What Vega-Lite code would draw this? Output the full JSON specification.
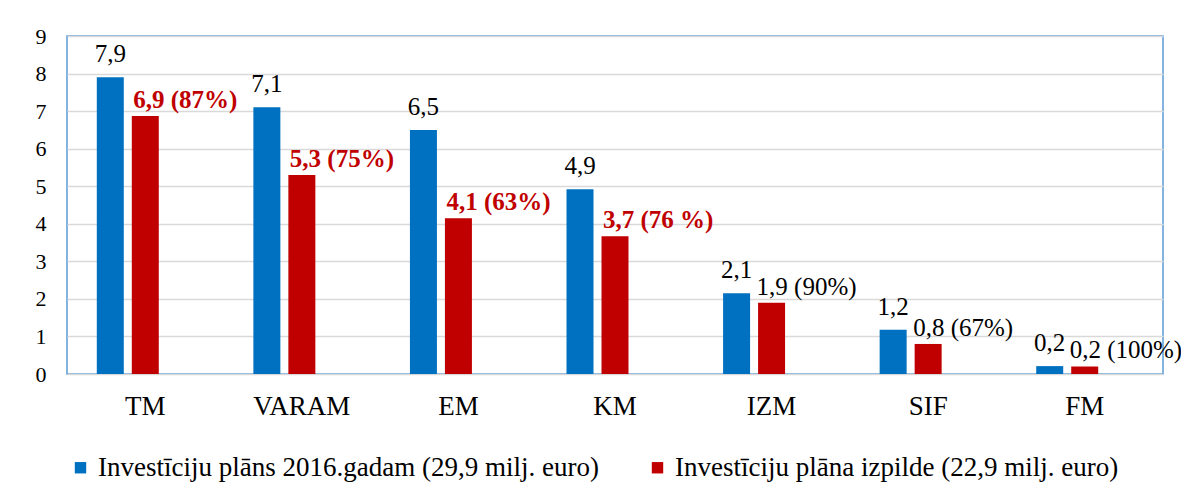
{
  "$schema": "https://vega.github.io/schema/vega-lite/v6.json",
  "width": 1096,
  "height": 338,
  "autosize": {"type": "none"},
  "padding": {"left": 67, "top": 36, "right": 18, "bottom": 124},
  "background": "white",
  "config": {
    "view": {"stroke": "#5b9bd5", "strokeWidth": 1.5},
    "font": "Liberation Serif"
  },
  "data": {
    "values": [
      {"cat": "TM", "series": "Investīciju plāns 2016.gadam (29,9 milj. euro)", "value": 7.9, "label": "7,9", "kind": "plan"},
      {"cat": "TM", "series": "Investīciju plāna izpilde (22,9 milj. euro)", "value": 6.87, "label": "6,9 (87%)", "kind": "hl"},
      {"cat": "VARAM", "series": "Investīciju plāns 2016.gadam (29,9 milj. euro)", "value": 7.1, "label": "7,1", "kind": "plan"},
      {"cat": "VARAM", "series": "Investīciju plāna izpilde (22,9 milj. euro)", "value": 5.3, "label": "5,3 (75%)", "kind": "hl"},
      {"cat": "EM", "series": "Investīciju plāns 2016.gadam (29,9 milj. euro)", "value": 6.5, "label": "6,5", "kind": "plan"},
      {"cat": "EM", "series": "Investīciju plāna izpilde (22,9 milj. euro)", "value": 4.15, "label": "4,1 (63%)", "kind": "hl"},
      {"cat": "KM", "series": "Investīciju plāns 2016.gadam (29,9 milj. euro)", "value": 4.92, "label": "4,9", "kind": "plan"},
      {"cat": "KM", "series": "Investīciju plāna izpilde (22,9 milj. euro)", "value": 3.67, "label": "3,7 (76 %)", "kind": "hl"},
      {"cat": "IZM", "series": "Investīciju plāns 2016.gadam (29,9 milj. euro)", "value": 2.15, "label": "2,1", "kind": "plan"},
      {"cat": "IZM", "series": "Investīciju plāna izpilde (22,9 milj. euro)", "value": 1.9, "label": "1,9 (90%)", "kind": "norm"},
      {"cat": "SIF", "series": "Investīciju plāns 2016.gadam (29,9 milj. euro)", "value": 1.18, "label": "1,2", "kind": "plan"},
      {"cat": "SIF", "series": "Investīciju plāna izpilde (22,9 milj. euro)", "value": 0.8, "label": "0,8 (67%)", "kind": "norm"},
      {"cat": "FM", "series": "Investīciju plāns 2016.gadam (29,9 milj. euro)", "value": 0.21, "label": "0,2", "kind": "plan"},
      {"cat": "FM", "series": "Investīciju plāna izpilde (22,9 milj. euro)", "value": 0.2, "label": "0,2 (100%)", "kind": "norm"}
    ]
  },
  "encoding": {
    "x": {
      "field": "cat", "type": "nominal", "sort": null,
      "scale": {"paddingInner": 0.3295, "paddingOuter": 0.16475},
      "axis": {"title": null, "labelAngle": 0, "ticks": false, "domain": false, "labelFontSize": 27, "labelColor": "#000", "labelPadding": 19, "labelFont": "Liberation Serif"}
    },
    "xOffset": {
      "field": "series", "type": "nominal",
      "scale": {"domain": ["Investīciju plāns 2016.gadam (29,9 milj. euro)", "Investīciju plāna izpilde (22,9 milj. euro)", "_pad"], "paddingInner": 0.2286, "paddingOuter": 0.1143}
    },
    "y": {
      "field": "value", "type": "quantitative",
      "scale": {"domain": [0, 9], "nice": false},
      "axis": {"title": null, "values": [0,1,2,3,4,5,6,7,8,9], "ticks": false, "domain": false, "gridColor": "#d9d9d9", "gridWidth": 1.5, "labelFontSize": 22, "labelColor": "#000", "labelPadding": 21, "labelFont": "Liberation Serif"}
    }
  },
  "layer": [
    {
      "mark": {"type": "bar"},
      "encoding": {
        "color": {
          "field": "series", "type": "nominal",
          "scale": {"domain": ["Investīciju plāns 2016.gadam (29,9 milj. euro)", "Investīciju plāna izpilde (22,9 milj. euro)"], "range": ["#0070c0", "#c00000"]},
          "legend": {"title": null, "orient": "bottom", "direction": "horizontal", "symbolType": "square", "symbolSize": 130, "symbolStrokeWidth": 0, "labelFontSize": 27, "labelFont": "Liberation Serif", "labelColor": "#000", "columnPadding": 45, "offset": 35, "labelLimit": 800, "labelOffset": 4}
        }
      }
    },
    {
      "transform": [{"filter": "datum.kind === 'plan'"}],
      "mark": {"type": "text", "align": "center", "baseline": "alphabetic", "dy": -15, "fontSize": 25, "color": "#000", "font": "Liberation Serif"},
      "encoding": {"text": {"field": "label"}}
    },
    {
      "transform": [{"filter": "datum.kind === 'hl'"}],
      "mark": {"type": "text", "align": "left", "baseline": "alphabetic", "dx": -12, "dy": -8, "fontSize": 25, "fontWeight": "bold", "color": "#c00000", "font": "Liberation Serif"},
      "encoding": {"text": {"field": "label"}}
    },
    {
      "transform": [{"filter": "datum.kind === 'norm'"}],
      "mark": {"type": "text", "align": "left", "baseline": "alphabetic", "dx": -15, "dy": -8, "fontSize": 25, "color": "#000", "font": "Liberation Serif"},
      "encoding": {"text": {"field": "label"}}
    }
  ]
}
